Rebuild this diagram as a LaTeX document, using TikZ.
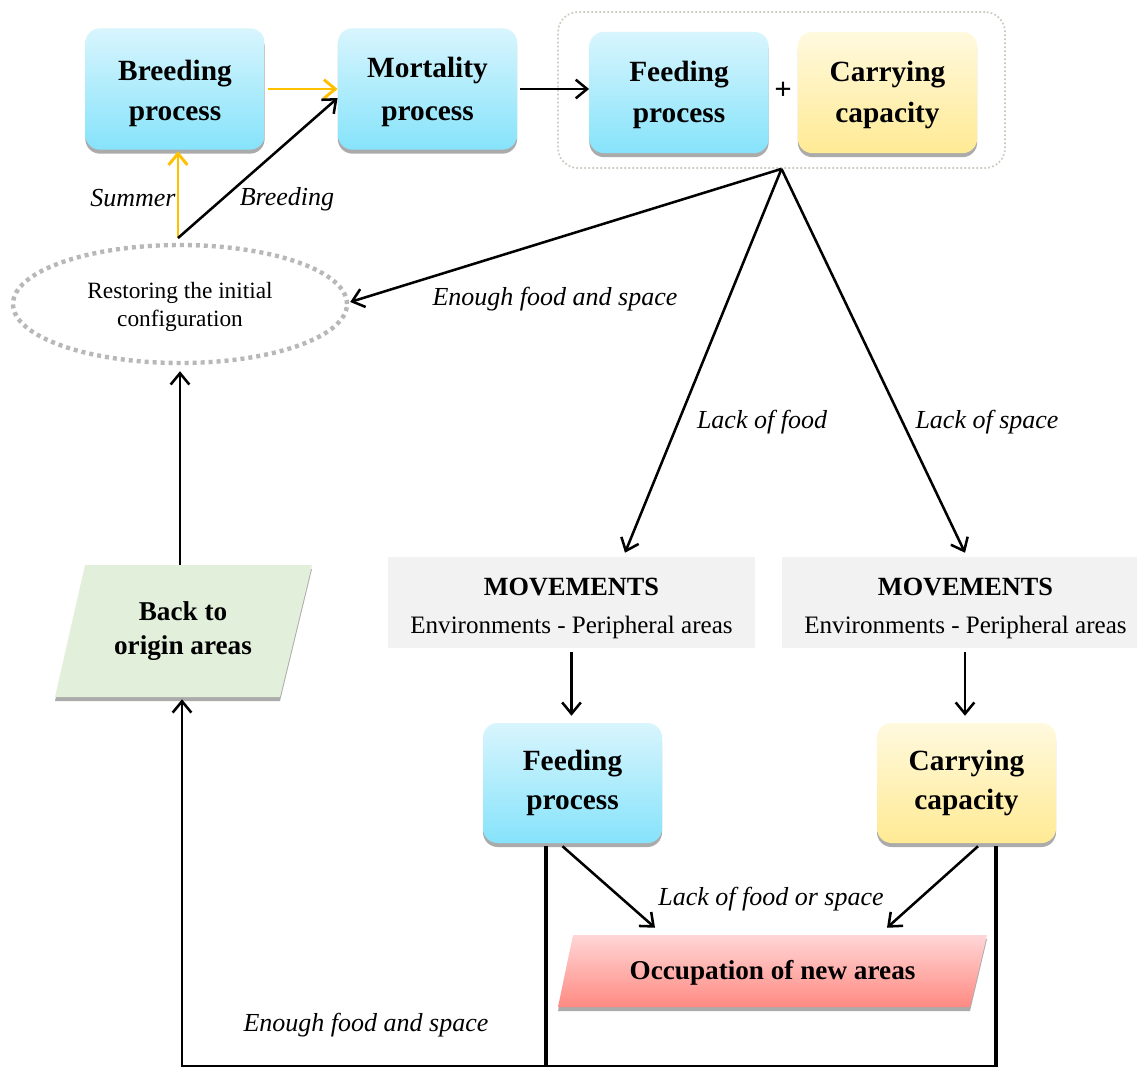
\documentclass[tikz,border=0pt]{standalone}
\usepackage{fontspec}
\setmainfont{Liberation Serif}
\usetikzlibrary{arrows.meta,shapes.geometric,shadows,calc}

\definecolor{bluetop}{HTML}{D8F5FD}
\definecolor{bluebot}{HTML}{86E3FB}
\definecolor{yeltop}{HTML}{FFF9DE}
\definecolor{yelbot}{HTML}{FFEA94}
\definecolor{movfill}{HTML}{F2F2F2}
\definecolor{backfill}{HTML}{E2EFDA}
\definecolor{occtop}{HTML}{FFD6D6}
\definecolor{occbot}{HTML}{FF8A82}
\definecolor{arrowyel}{HTML}{FFC000}
\definecolor{dotgray}{HTML}{B8B8B8}
\definecolor{grpgray}{HTML}{C9CCC0}

\newcommand{\boxstrut}[1]{\rule{0pt}{#1}}

\tikzset{
  shad/.style={drop shadow={shadow xshift=0pt, shadow yshift=-3pt, fill=black!55, opacity=0.6}},
  proc/.style={shad, rounded corners=11pt, minimum width=134.5pt, minimum height=91pt,
    inner sep=0pt, align=center, font=\fontsize{22}{29.5}\selectfont\bfseries},
  blueproc/.style={proc, top color=bluetop, bottom color=bluebot},
  yelproc/.style={proc, top color=yeltop, bottom color=yelbot},
  grpbox/.style={draw=grpgray, line width=1.3pt, dash pattern=on 1.3pt off 1.7pt,
    rounded corners=15pt, inner sep=0pt},
  restore/.style={ellipse, draw=dotgray, line width=3.3pt, dash pattern=on 3pt off 3pt,
    minimum width=250.5pt, minimum height=88.5pt, inner sep=0pt, align=center,
    font=\fontsize{17.5}{21}\selectfont},
  movbox/.style={fill=movfill, minimum height=68.25pt, inner sep=0pt, align=center,
    font=\fontsize{18.8}{28.5}\selectfont},
  boldtxt/.style={inner sep=0pt, align=center, font=\fontsize{20.4}{25.5}\selectfont\bfseries},
  lbl/.style={inner sep=0pt, font=\fontsize{19.5}{22}\selectfont\itshape},
  barr/.style={draw=black, line width=1.9pt, -{Straight Barb[length=8.5pt,width=14pt]}},
  yarr/.style={draw=arrowyel, line width=2.2pt, -{Straight Barb[length=8.5pt,width=14pt]}},
  fat/.style={draw=black, line width=2.4pt}
}

\begin{document}
\begin{tikzpicture}[x=0.75pt,y=-0.75pt]
\useasboundingbox[fill=white] (0,0) rectangle (1137,1068);

% top row
\node[grpbox, minimum width=335.25pt, minimum height=117pt] (grp) at (781.5,90) {};
\node[blueproc] (breed) at (175,89) {\boxstrut{22pt}Breeding\\process};
\node[blueproc, font=\fontsize{22}{32}\selectfont\bfseries] (mort) at (427.5,89) {\boxstrut{19.5pt}Mortality\\process};
\node[blueproc, font=\fontsize{22}{31}\selectfont\bfseries] (feed1) at (679,92.5) {\boxstrut{19pt}Feeding\\process};
\node[yelproc, font=\fontsize{22}{31}\selectfont\bfseries] (carry1) at (887.5,92.5) {\boxstrut{19pt}Carrying\\capacity};
\node[inner sep=0pt, font=\fontsize{23}{23}\selectfont\bfseries] (plus) at (783,91) {+};

% restoring
\node[restore] (rest) at (180,304) {\boxstrut{17pt}Restoring the initial\\configuration};
\coordinate (j) at (178,238);

% movements
\node[movbox, minimum width=275.25pt] (mov1) at (571.5,602.5)
  {\boxstrut{22pt}{\bfseries\fontsize{19.7}{28.5}\selectfont MOVEMENTS}\\Environments - Peripheral areas};
\node[movbox, minimum width=275.25pt] (mov2) at (965.5,602.5)
  {\boxstrut{22pt}{\bfseries\fontsize{19.7}{28.5}\selectfont MOVEMENTS}\\Environments - Peripheral areas};

% lower boxes
\node[blueproc, minimum width=134.25pt, minimum height=90pt] (feed2) at (572.5,783) {Feeding\\process};
\node[yelproc, minimum width=134.25pt, minimum height=90pt] (carry2) at (966.5,783) {Carrying\\capacity};

% back to origin
\path[fill=backfill, shad] (85,565) -- (312,565) -- (280,697) -- (55,697) -- cycle;
\node[boldtxt, minimum width=168.75pt, minimum height=99pt] (back) at (183,631) {Back to\\origin areas};

% occupation
\path[top color=occtop, bottom color=occbot, shad] (573,935) -- (987,935) -- (970,1007) -- (558,1007) -- cycle;
\node[boldtxt, minimum width=310.5pt, minimum height=54pt] (occ) at (772.5,971) {\boxstrut{16.5pt}Occupation of new areas};

% connectors
\draw[yarr, shorten <=2pt] (breed.east) -- (mort.west);
\draw[barr, shorten <=2pt] (mort.east) -- (feed1.west |- mort.east);
\draw[yarr, shorten >=1pt] (j) -- (j |- breed.south);
\draw[barr] (j) -- ($(mort.west)+(0,9)$);
\draw[barr] (grp.south) -- ($(rest.east)+(1,-2)$);
\draw[barr] (grp.south) -- ($(mov1.north)+(53.5,-4)$);
\draw[barr] (grp.south) -- ($(mov2.north)+(-0.5,-4)$);
\draw[barr] ($(mov1.south)+(0,4)$) -- ($(mov1.south |- feed2.north)+(0,-7)$);
\draw[barr] ($(carry2.north |- mov2.south)+(-1.5,4)$) -- ($(carry2.north)+(-1.5,-7)$);
\draw[barr] (rest.south |- back.north) -- ($(rest.south)+(0,6)$);
\draw[barr] ($(feed2.south)+(-10,3)$) -- ($(occ.north)+(-117.5,-7)$);
\draw[barr] ($(carry2.south)+(11.5,3)$) -- ($(occ.north)+(114.5,-7)$);

\coordinate (c0) at (182,1066);
\coordinate (c1) at (546,1066);
\coordinate (c2) at (996,1066);
\draw[fat] ($(feed2.south)+(-26.5,3)$) -- (c1);
\draw[fat] ($(carry2.south)+(29.5,3)$) -- ($(c2)+(0,1)$);
\draw[barr, line join=miter] (c2) -- (c0) -- ($(back.south)+(-1,2)$);

% labels
\node[lbl] (lsummer) at (133,198) {Summer};
\node[lbl] (lbreed) at (287,199) {Breeding};
\node[lbl] (lenough1) at (555,299) {Enough food and space};
\node[lbl] (lfood) at (762,422) {Lack of food};
\node[lbl] (lspace) at (987,422) {Lack of space};
\node[lbl] (lfoodspace) at (771,899) {Lack of food or space};
\node[lbl] (lenough2) at (366,1025) {Enough food and space};
\end{tikzpicture}
\end{document}
